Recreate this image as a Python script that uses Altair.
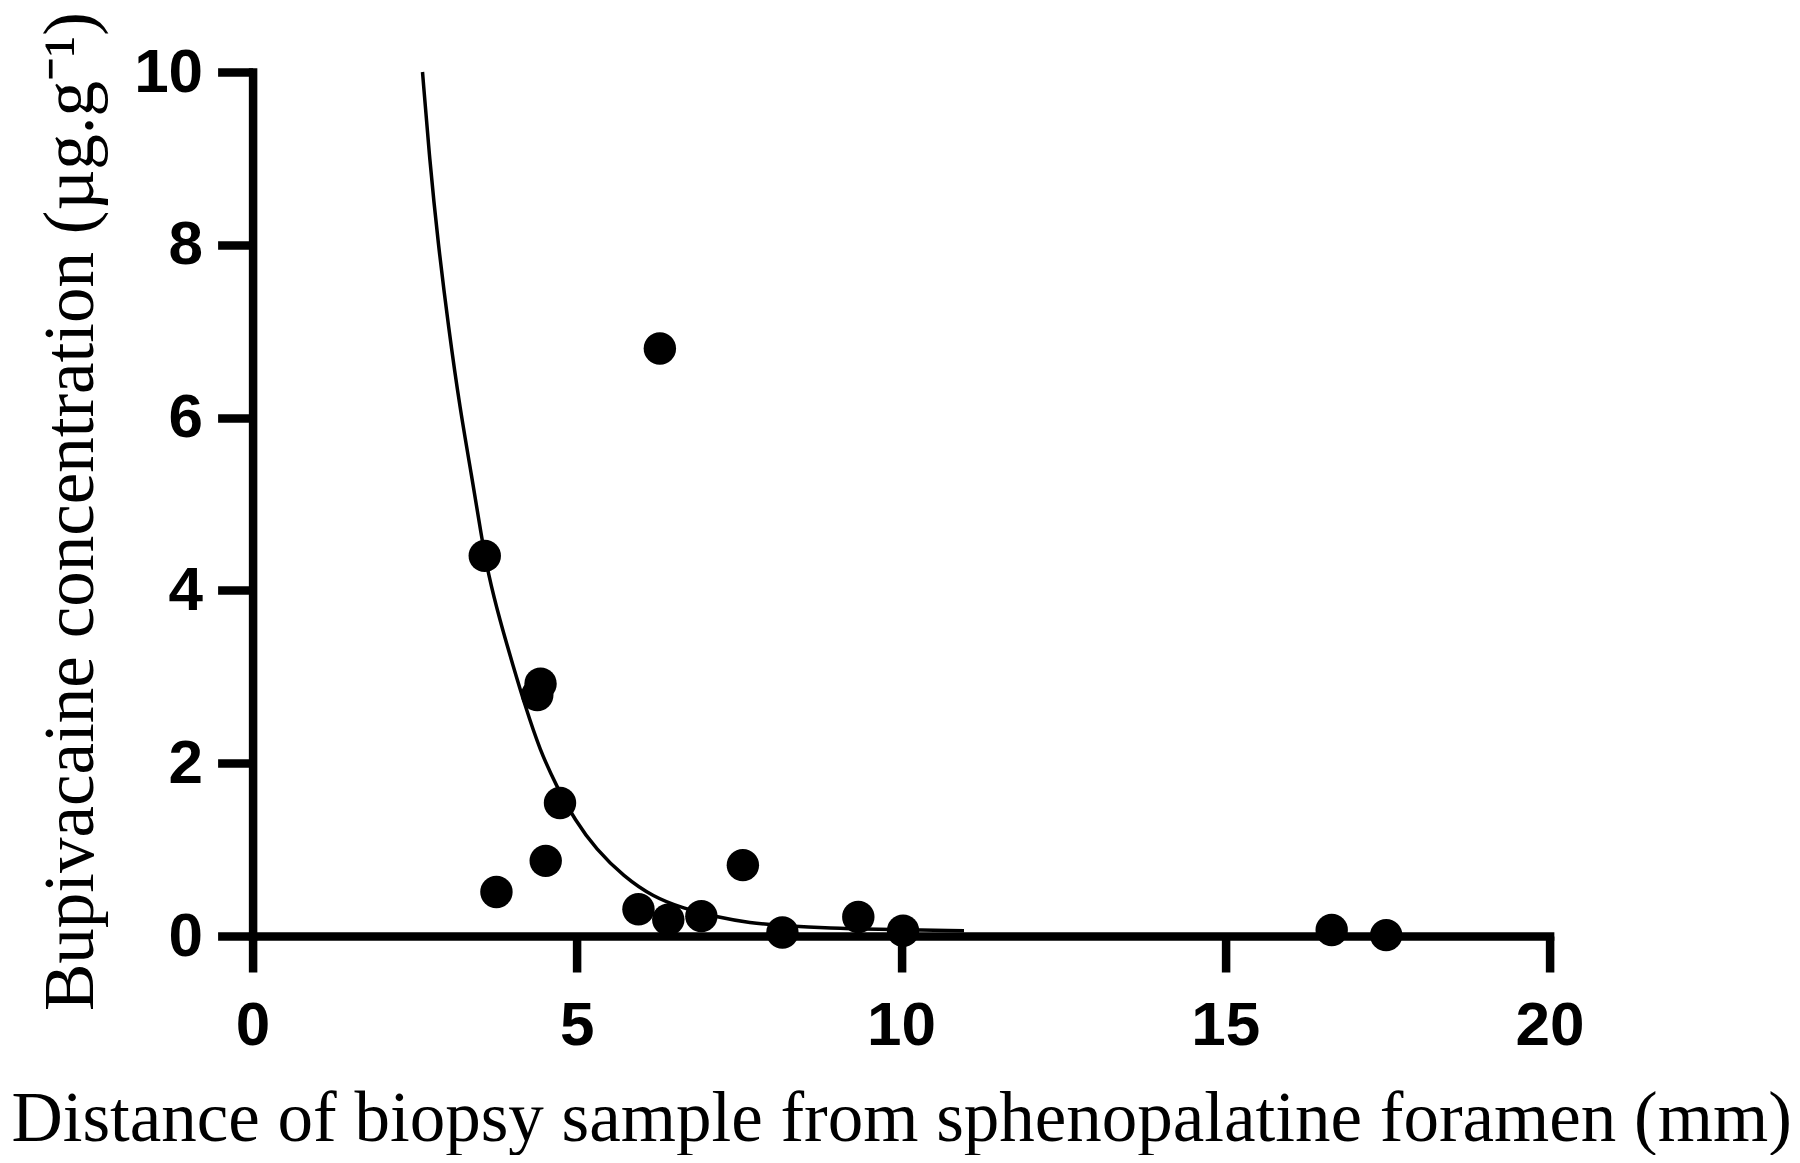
import altair as alt
import pandas as pd

# Measured samples
sample_dist = [6.28, 3.58, 4.44, 4.39, 4.74, 4.52, 3.76, 5.95, 6.41, 6.92, 7.56, 8.17, 9.34, 10.03, 16.64, 17.48]
sample_conc = [6.80, 4.40, 2.92, 2.79, 1.54, 0.87, 0.51, 0.31, 0.19, 0.23, 0.82, 0.04, 0.22, 0.06, 0.07, 0.01]

# Fitted decay curve
curve_dist = [2.62, 2.73, 2.86, 3.02, 3.20, 3.38, 3.53, 3.63, 3.81, 4.02, 4.20, 4.43, 4.69, 4.97,
              5.30, 5.72, 6.18, 6.64, 7.15, 7.67, 8.18, 8.95, 9.50, 10.97]
curve_conc = [10.0, 8.98, 8.02, 7.05, 6.09, 5.32, 4.62, 4.20, 3.66, 3.12, 2.67, 2.15, 1.73, 1.34,
              1.00, 0.69, 0.45, 0.32, 0.22, 0.15, 0.12, 0.09, 0.08, 0.06]

x_ticks = [0, 5, 10, 15, 20]
y_ticks = [0, 2, 4, 6, 8, 10]

x_title = "Distance of biopsy sample from sphenopalatine foramen (mm)"
y_title = "Bupivacaine concentration (µg.g⁻¹)"

pts = pd.DataFrame({"d": sample_dist, "c": sample_conc})
crv = pd.DataFrame({"d": curve_dist, "c": curve_conc})

W, H = 1297, 864

x_enc = alt.X(
    "d:Q",
    scale=alt.Scale(domain=[0, 20], nice=False, zero=False),
    axis=alt.Axis(
        values=x_ticks, format="d", title=x_title, grid=False,
        domainColor="black", domainWidth=8.5, domainCap="square",
        tickColor="black", tickWidth=8.5, tickSize=36,
        labelFont="Liberation Sans", labelFontWeight="bold", labelFontSize=62,
        labelColor="black", labelPadding=23, labelFlush=False,
        titleFont="Liberation Serif", titleFontWeight="normal", titleFontSize=71,
        titleColor="black", titleX=W / 2, titleY=204, titleAlign="center",
        titleBaseline="alphabetic",
    ),
)
y_enc = alt.Y(
    "c:Q",
    scale=alt.Scale(domain=[0, 10], nice=False, zero=False),
    axis=alt.Axis(
        values=y_ticks, format="d", title=y_title, grid=False,
        domainColor="black", domainWidth=8.5, domainCap="square",
        tickColor="black", tickWidth=8.5, tickSize=35,
        labelFont="Liberation Sans", labelFontWeight="bold", labelFontSize=62,
        labelColor="black", labelPadding=15,
        titleFont="Liberation Serif", titleFontWeight="normal", titleFontSize=71,
        titleColor="black", titleX=-160, titleY=439, titleAngle=270,
        titleAlign="center", titleBaseline="alphabetic",
    ),
)

line = alt.Chart(crv).mark_line(color="black", strokeWidth=3.5, interpolate="basis").encode(
    x=x_enc, y=y_enc
)
dots = alt.Chart(pts).mark_circle(color="black", opacity=1, size=1050).encode(
    x=alt.X("d:Q"), y=alt.Y("c:Q")
)

chart = (
    alt.layer(line, dots)
    .properties(
        width=W, height=H,
        autosize=alt.AutoSizeParams(type="none"),
        padding={"left": 244.6, "top": 64, "right": 242.4, "bottom": 219},
        background="white",
    )
    .configure_view(strokeWidth=0)
)

chart.save("out.html", embed_options={"renderer": "svg", "actions": False})
